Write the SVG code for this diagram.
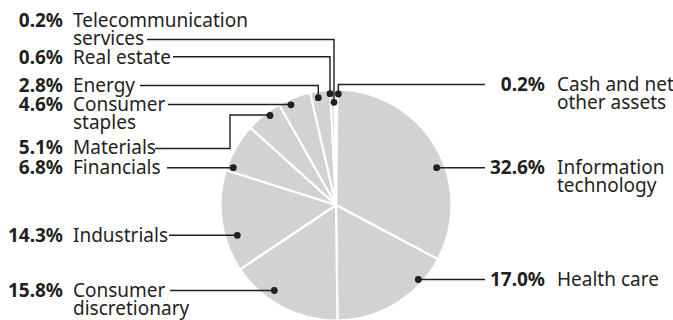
<svg xmlns="http://www.w3.org/2000/svg" width="673" height="320" viewBox="0 0 673 320">
<style>
.sl{fill:#d1d2d4;stroke:#fff;stroke-width:2.2;stroke-linejoin:round}
.t{font-family:"Noto Sans","Open Sans",sans-serif;font-size:19px;fill:#231f20}
.p{font-weight:bold;text-anchor:end}
.ln{fill:none;stroke:#231f20;stroke-width:1.4}
.d{fill:#231f20}
</style>
<rect width="673" height="320" fill="#fff"/>
<g id="pie">
<path id="s-cash" class="sl" d="M336,205 L336,89.5 A115.5,115.5 0 0 1 337.451,89.509 Z"/>
<path id="s-it" class="sl" d="M336,205 L337.451,89.509 A115.5,115.5 0 0 1 437.924,259.342 Z"/>
<path id="s-hc" class="sl" d="M336,205 L437.924,259.342 A115.5,115.5 0 0 1 337.451,320.491 Z"/>
<path id="s-cd" class="sl" d="M336,205 L337.451,320.491 A115.5,115.5 0 0 1 240.059,269.308 Z"/>
<path id="s-ind" class="sl" d="M336,205 L240.059,269.308 A115.5,115.5 0 0 1 225.931,169.999 Z"/>
<path id="s-fin" class="sl" d="M336,205 L225.931,169.999 A115.5,115.5 0 0 1 250.307,127.562 Z"/>
<path id="s-mat" class="sl" d="M336,205 L250.307,127.562 A115.5,115.5 0 0 1 279.095,104.491 Z"/>
<path id="s-cs" class="sl" d="M336,205 L279.095,104.491 A115.5,115.5 0 0 1 310.097,92.442 Z"/>
<path id="s-en" class="sl" d="M336,205 L310.097,92.442 A115.5,115.5 0 0 1 330.197,89.646 Z"/>
<path id="s-re" class="sl" d="M336,205 L330.197,89.646 A115.5,115.5 0 0 1 334.549,89.509 Z"/>
<path id="s-tel" class="sl" d="M336,205 L334.549,89.509 A115.5,115.5 0 0 1 336,89.5 Z"/>
</g>
<g id="connectors">
<polyline class="ln" points="147,39.5 334,39.5 334,102.3"/>
<polyline class="ln" points="173,56.7 330,56.7 330,93.7"/>
<polyline class="ln" points="140,85.5 318.3,85.5 318.3,97.7"/>
<polyline class="ln" points="168,104.5 291,104.5"/>
<polyline class="ln" points="155,148.5 230,148.5 230,115 270,115"/>
<polyline class="ln" points="167,167.7 233.3,167.7"/>
<polyline class="ln" points="169,235.3 237.3,235.3"/>
<polyline class="ln" points="170,290.5 274.3,290.5"/>
<polyline class="ln" points="338.3,94 338.3,84.5 485,84.5"/>
<polyline class="ln" points="436.7,167.7 485,167.7"/>
<polyline class="ln" points="418.3,279.5 485,279.5"/>
<circle class="d" cx="334" cy="102.3" r="3.4"/>
<circle class="d" cx="330" cy="93.7" r="3.4"/>
<circle class="d" cx="318.3" cy="97.7" r="3.4"/>
<circle class="d" cx="291" cy="104.8" r="3.4"/>
<circle class="d" cx="270" cy="115.5" r="3.4"/>
<circle class="d" cx="233.3" cy="167.7" r="3.4"/>
<circle class="d" cx="237.3" cy="235.3" r="3.4"/>
<circle class="d" cx="274.3" cy="290.5" r="3.4"/>
<circle class="d" cx="338.3" cy="94" r="3.4"/>
<circle class="d" cx="436.7" cy="167.7" r="3.4"/>
<circle class="d" cx="418.3" cy="279.5" r="3.4"/>
</g>
<g id="lbl-tel"><text class="t p" x="63" y="26.5">0.2%</text><text class="t" x="73" y="26.5">Telecommunication</text><text class="t" x="73" y="44.5">services</text></g>
<g id="lbl-re"><text class="t p" x="63" y="63.5">0.6%</text><text class="t" x="73" y="63.5">Real estate</text></g>
<g id="lbl-en"><text class="t p" x="63" y="91.5">2.8%</text><text class="t" x="73" y="91.5">Energy</text></g>
<g id="lbl-cs"><text class="t p" x="63" y="110.5">4.6%</text><text class="t" x="73" y="110.5">Consumer</text><text class="t" x="73" y="128.5">staples</text></g>
<g id="lbl-mat"><text class="t p" x="63" y="154">5.1%</text><text class="t" x="73" y="154">Materials</text></g>
<g id="lbl-fin"><text class="t p" x="63" y="174">6.8%</text><text class="t" x="73" y="174">Financials</text></g>
<g id="lbl-ind"><text class="t p" x="63" y="241.5">14.3%</text><text class="t" x="73" y="241.5">Industrials</text></g>
<g id="lbl-cd"><text class="t p" x="63" y="296.5">15.8%</text><text class="t" x="73" y="296.5">Consumer</text><text class="t" x="73" y="314.5">discretionary</text></g>
<g id="lbl-cash"><text class="t p" x="545" y="90.5">0.2%</text><text class="t" x="557" y="90.5">Cash and net</text><text class="t" x="557" y="108.5">other assets</text></g>
<g id="lbl-it"><text class="t p" x="545" y="174">32.6%</text><text class="t" x="557" y="174">Information</text><text class="t" x="557" y="192">technology</text></g>
<g id="lbl-hc"><text class="t p" x="545" y="285.5">17.0%</text><text class="t" x="557" y="285.5">Health care</text></g>
</svg>
